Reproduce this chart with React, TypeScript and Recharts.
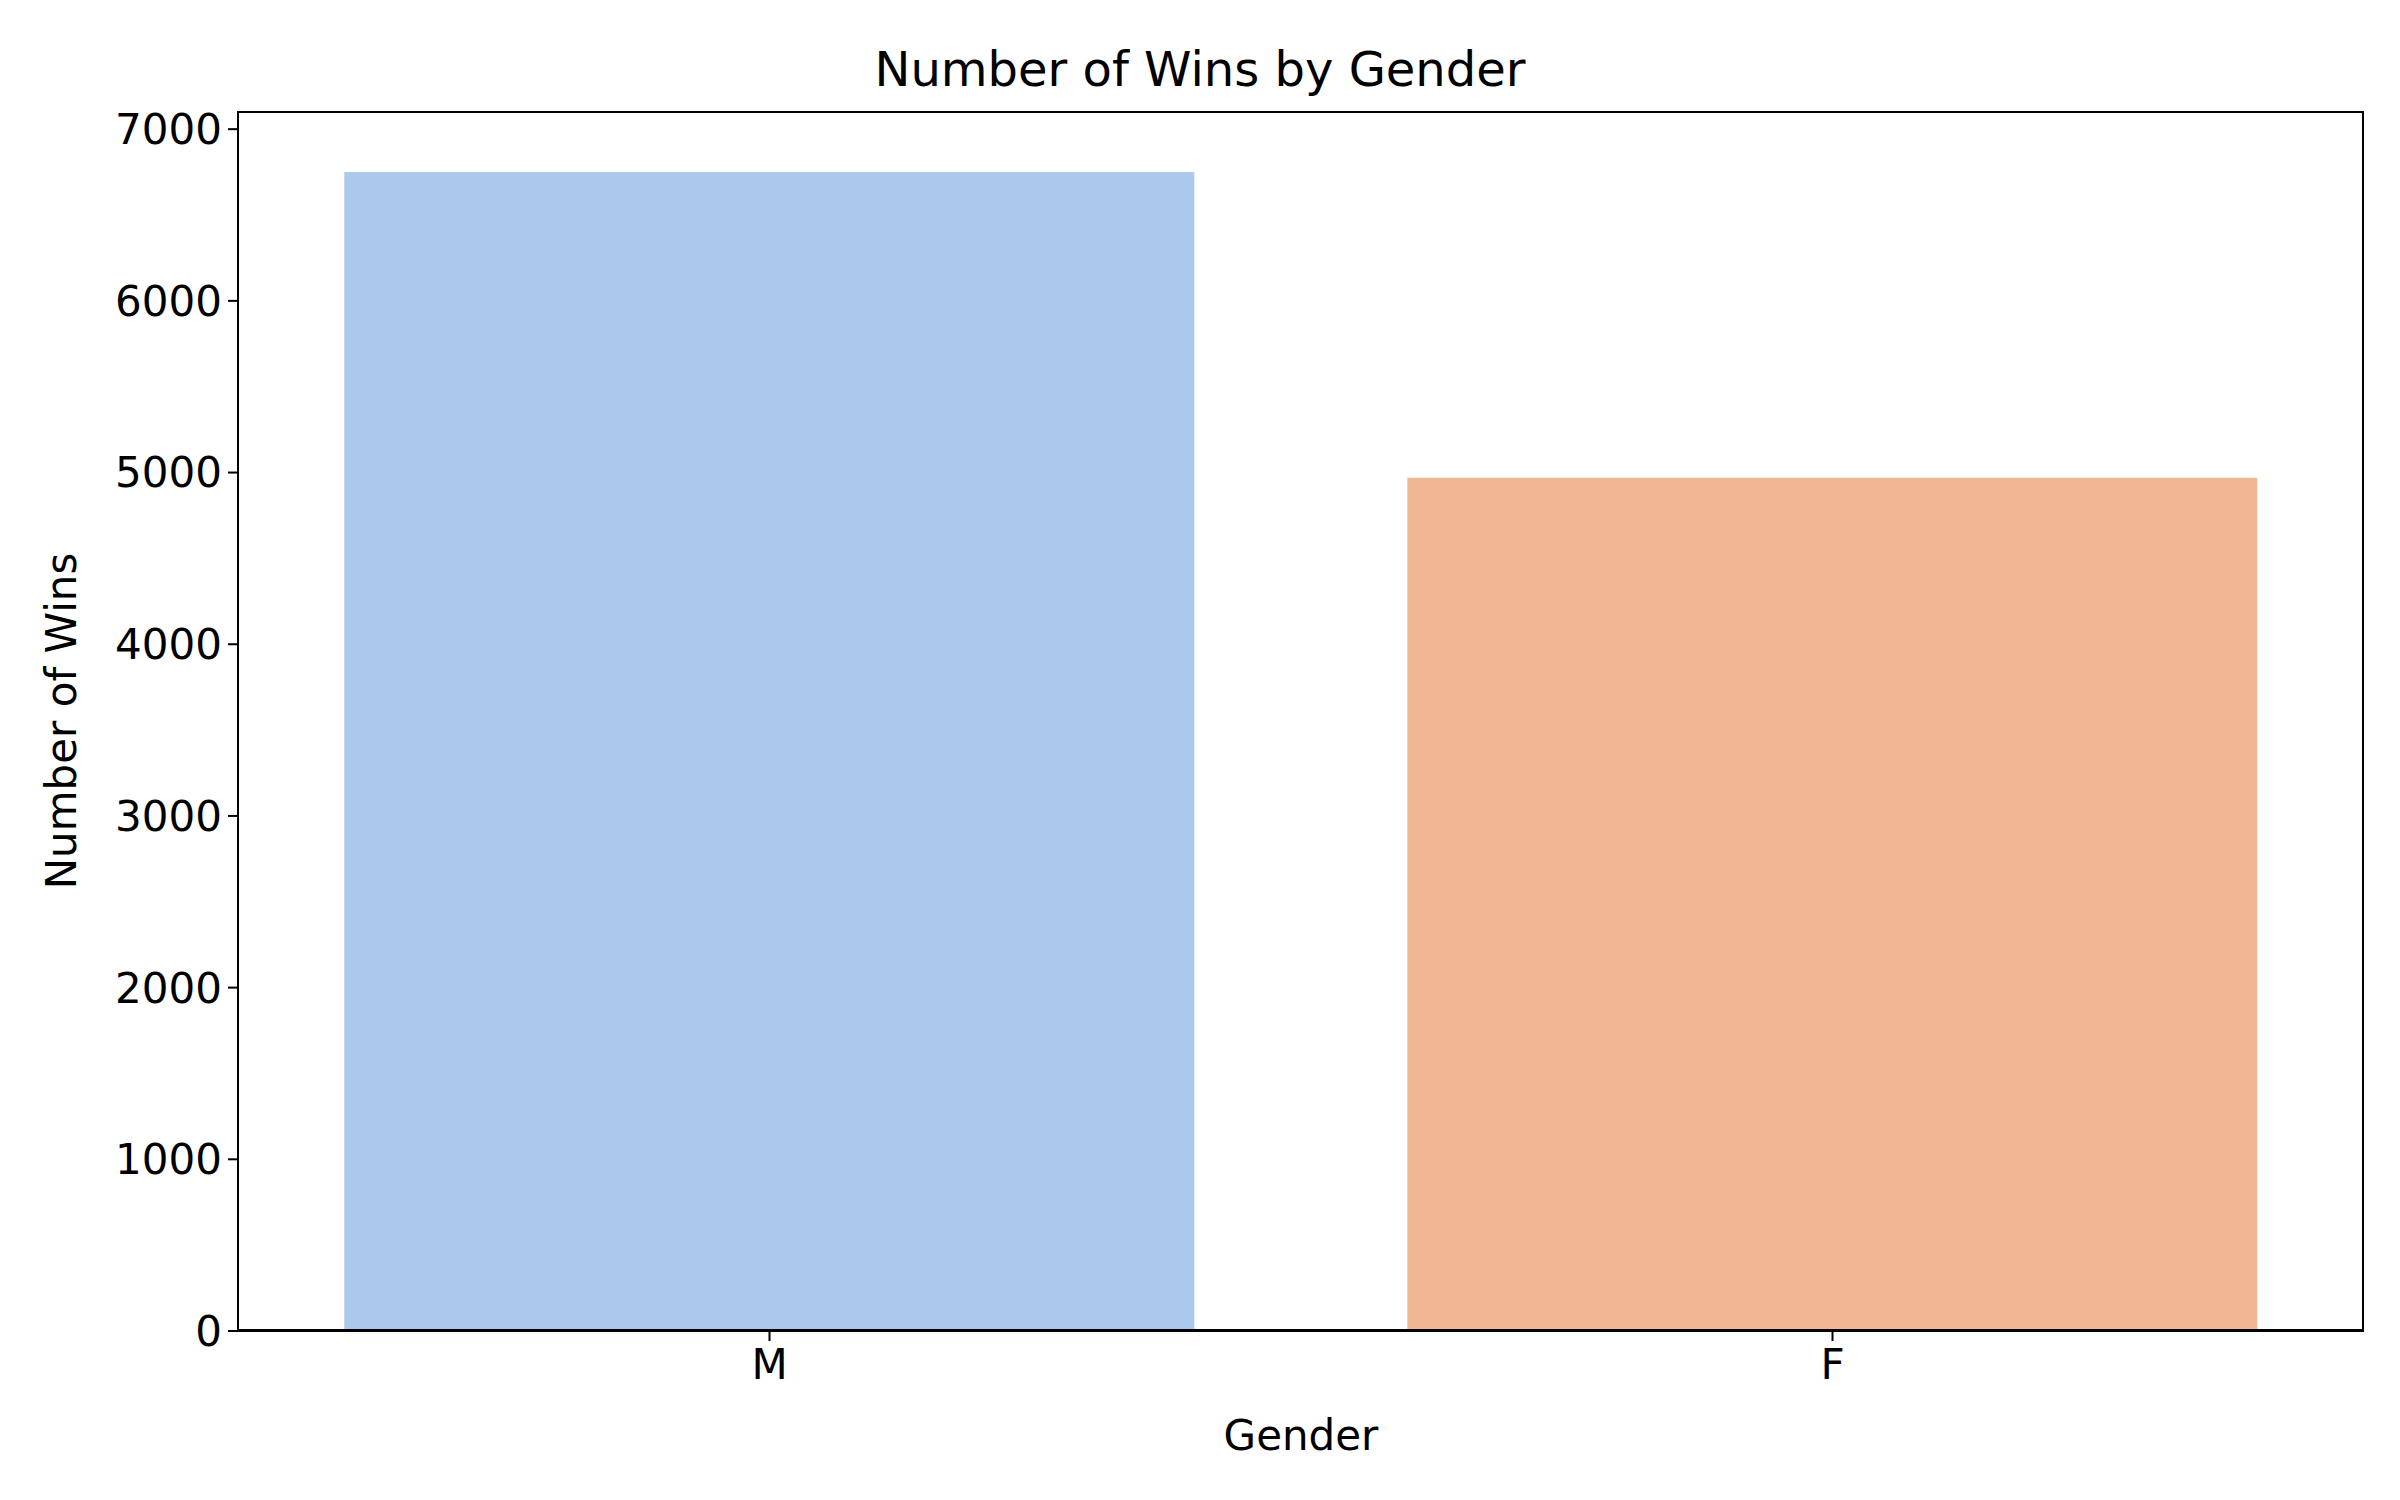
import { BarChart, Bar, XAxis, YAxis, Cell } from "recharts";

const genders = ["M", "F"];
const wins = [6750, 4970];
const colors = ["#abc9ec", "#f0b892"];
const yTicks = [0, 1000, 2000, 3000, 4000, 5000, 6000, 7000];

const data = genders.map((g, i) => ({ gender: g, wins: wins[i] }));
const font = "DejaVu Sans, sans-serif";
const tick = { fill: "#000", fontSize: 42, fontFamily: font };

export default function App() {
  return (
    <div style={{ position: "absolute", left: 0, top: 0, width: 2400, height: 1500, background: "#fff", fontFamily: font }}>
      <div style={{ position: "absolute", top: 40, width: 2400, left: 0, textAlign: "center", fontSize: 48, lineHeight: "58px" }}>
        Number of Wins by Gender
      </div>
      <div style={{ position: "absolute", top: 1410, left: 238, width: 2126, textAlign: "center", fontSize: 42, lineHeight: "52px" }}>
        Gender
      </div>
      <div style={{ position: "absolute", left: 62, top: 721, width: 0, height: 0 }}>
        <div style={{ position: "absolute", transform: "translate(-50%, -50%) rotate(-90deg)", whiteSpace: "nowrap", fontSize: 42, lineHeight: "52px" }}>
          Number of Wins
        </div>
      </div>
      <BarChart width={2400} height={1500} data={data} margin={{ top: 112, right: 36, bottom: 0, left: 98 }} barCategoryGap="10%">
        <XAxis dataKey="gender" tick={tick} tickSize={10} stroke="#000" strokeWidth={2} height={169} tickMargin={8} />
        <YAxis domain={[0, 7100]} ticks={yTicks} tick={tick} tickSize={10} stroke="#000" strokeWidth={2} width={140} tickMargin={6} />
        <Bar dataKey="wins" isAnimationActive={false}>
          {data.map((d, i) => (
            <Cell key={d.gender} fill={colors[i]} />
          ))}
        </Bar>
      </BarChart>
      <div style={{ position: "absolute", left: 237, top: 111, width: 2127, height: 1220, border: "2px solid #000", boxSizing: "border-box", pointerEvents: "none" }} />
    </div>
  );
}
